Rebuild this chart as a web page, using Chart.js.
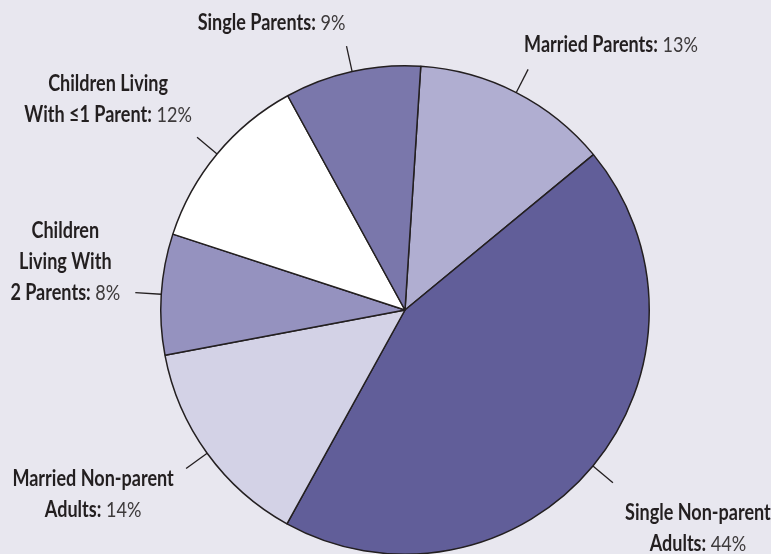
<!DOCTYPE html>
<html>
<head>
<meta charset="utf-8">
<script src="https://cdn.jsdelivr.net/npm/chart.js@4"></script>
<style>
  html, body { margin: 0; padding: 0; background: #e8e7ef; overflow: hidden; }
  #wrap { width: 771px; height: 554px; overflow: hidden; }
</style>
</head>
<body>
<div id="wrap"><canvas id="pieChart" width="771" height="600"></canvas></div>
<script>
// household shares, clockwise from the top
const groups = [
  'Married Parents',
  'Single Non-parent Adults',
  'Married Non-parent Adults',
  'Children Living With 2 Parents',
  'Children Living With ≤1 Parent',
  'Single Parents'
];
const shares = [13, 44, 14, 8, 12, 9];
// bold part of each label, one entry per text line
const labelLines = [
  ['Married Parents:'],
  ['Single Non-parent', 'Adults:'],
  ['Married Non-parent', 'Adults:'],
  ['Children', 'Living With', '2 Parents:'],
  ['Children Living', 'With ≤1 Parent:'],
  ['Single Parents:']
];

const sliceColors = ['#b0aed1', '#615e99', '#d3d2e6', '#9592bf', '#ffffff', '#7a77ab'];

// where each text block sits relative to the outer end of its leader line
// align: 'left' -> block starts at x, 'center' -> block centred on x
const labelPlace = [
  { dx: -4,  dy: -25, align: 'left' },
  { dx: 85,  dy: 30,  align: 'center' },
  { dx: -93, dy: 10,  align: 'center' },
  { dx: -70, dy: -62, align: 'center' },
  { dx: -89, dy: -53, align: 'center' },
  { dx: -75, dy: -23, align: 'center' }
];

const LINE_H = 31;
const SQUEEZE = 0.82;
const BOLD = '700 22px Lato';
const LIGHT = '400 22px Lato';

const leaderLabels = {
  id: 'leaderLabels',
  afterDraw(chart) {
    const ctx = chart.ctx;
    const arcs = chart.getDatasetMeta(0).data;
    ctx.save();
    arcs.forEach((arc, i) => {
      const { x, y, startAngle, endAngle, outerRadius } = arc.getProps(['x', 'y', 'startAngle', 'endAngle', 'outerRadius'], true);
      const mid = (startAngle + endAngle) / 2;
      const x0 = x + Math.cos(mid) * outerRadius;
      const y0 = y + Math.sin(mid) * outerRadius;
      const x1 = x + Math.cos(mid) * (outerRadius + 26);
      const y1 = y + Math.sin(mid) * (outerRadius + 26);
      ctx.strokeStyle = '#231f20';
      ctx.lineWidth = 1.3;
      ctx.beginPath();
      ctx.moveTo(x0, y0);
      ctx.lineTo(x1, y1);
      ctx.stroke();

      const place = labelPlace[i];
      const lines = labelLines[i];
      const pct = ' ' + shares[i] + '%';
      ctx.textBaseline = 'middle';
      ctx.textAlign = 'left';
      lines.forEach((txt, j) => {
        const last = j === lines.length - 1;
        ctx.font = BOLD;
        const wb = ctx.measureText(txt).width;
        ctx.font = LIGHT;
        const wp = last ? ctx.measureText(pct).width : 0;
        const w = (wb + wp) * SQUEEZE;
        const lx = place.align === 'left' ? x1 + place.dx : x1 + place.dx - w / 2;
        const ly = y1 + place.dy + j * LINE_H;
        ctx.save();
        ctx.translate(lx, ly);
        ctx.scale(SQUEEZE, 1);
        ctx.font = BOLD;
        ctx.fillStyle = '#231f20';
        ctx.fillText(txt, 0, 0);
        if (last) {
          ctx.font = LIGHT;
          ctx.fillStyle = '#3d3a3b';
          ctx.fillText(pct, wb, 0);
        }
        ctx.restore();
      });
    });
    ctx.restore();
  }
};

new Chart(document.getElementById('pieChart').getContext('2d'), {
  type: 'pie',
  data: {
    labels: groups,
    datasets: [{
      data: shares,
      backgroundColor: sliceColors,
      borderColor: '#231f20',
      borderWidth: 1.5
    }]
  },
  options: {
    responsive: false,
    animation: false,
    rotation: 3.7,
    layout: { padding: { top: 65, bottom: 45, left: 160, right: 121 } },
    plugins: {
      legend: { display: false },
      tooltip: { enabled: false }
    }
  },
  plugins: [leaderLabels]
});
</script>
</body>
</html>
